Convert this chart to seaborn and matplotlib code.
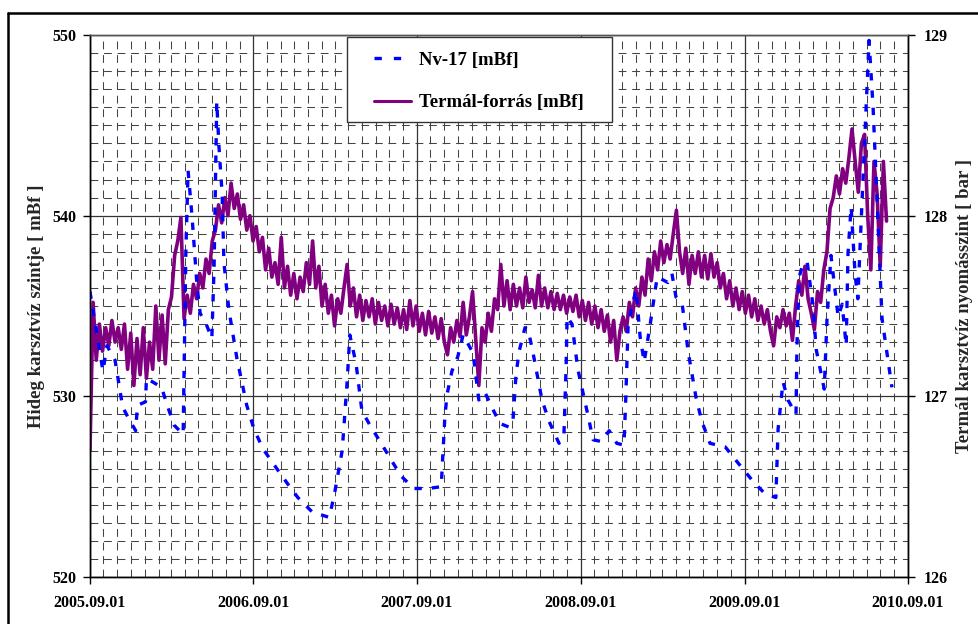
import matplotlib
matplotlib.use("Agg")
import matplotlib.pyplot as plt
import matplotlib.dates as mdates
from matplotlib.ticker import MultipleLocator, FixedLocator
from matplotlib.lines import Line2D
from matplotlib.patches import Rectangle
import pandas as pd
import seaborn as sns

# Nv-17 well level [mBf], read at the turning points of the curve
nv17_dates = [
    "2005-09-01", "2005-09-30", "2005-10-09", "2005-10-27", "2005-11-13", "2005-11-28", "2005-12-12", "2005-12-16", "2006-01-03", "2006-01-05",
    "2006-02-08", "2006-02-19", "2006-03-08", "2006-03-28", "2006-04-03", "2006-04-08", "2006-04-17", "2006-04-28", "2006-05-05", "2006-05-20",
    "2006-05-31", "2006-06-05", "2006-06-11", "2006-06-16", "2006-06-23", "2006-06-27", "2006-07-08", "2006-07-26", "2006-08-17", "2006-09-02",
    "2006-09-22", "2006-10-23", "2006-11-15", "2006-12-09", "2007-01-10", "2007-02-17", "2007-02-28", "2007-03-18", "2007-03-29", "2007-04-04",
    "2007-04-18", "2007-05-01", "2007-05-19", "2007-06-08", "2007-07-05", "2007-07-27", "2007-08-25", "2007-09-26", "2007-10-25", "2007-11-02",
    "2007-11-07", "2007-11-18", "2007-12-01", "2007-12-13", "2008-01-04", "2008-01-17", "2008-01-31", "2008-02-15", "2008-03-04", "2008-03-24",
    "2008-04-02", "2008-04-09", "2008-04-16", "2008-04-29", "2008-05-06", "2008-05-17", "2008-06-06", "2008-06-22", "2008-07-14", "2008-07-25",
    "2008-07-30", "2008-08-01", "2008-08-12", "2008-08-25", "2008-09-17", "2008-09-28", "2008-10-16", "2008-11-03", "2008-11-20", "2008-12-06",
    "2008-12-10", "2008-12-15", "2008-12-24", "2009-01-02", "2009-01-11", "2009-01-20", "2009-02-02", "2009-02-18", "2009-02-27", "2009-03-14",
    "2009-03-23", "2009-04-01", "2009-04-15", "2009-04-28", "2009-05-16", "2009-05-29", "2009-06-16", "2009-07-20", "2009-08-18", "2009-09-20",
    "2009-10-17", "2009-11-10", "2009-11-15", "2009-11-26", "2009-12-07", "2009-12-25", "2009-12-27", "2010-01-01", "2010-01-10", "2010-01-19",
    "2010-02-01", "2010-02-08", "2010-02-26", "2010-03-04", "2010-03-13", "2010-03-29", "2010-04-07", "2010-04-16", "2010-04-20", "2010-04-27",
    "2010-05-06", "2010-05-12", "2010-05-21", "2010-06-06", "2010-06-15", "2010-06-24", "2010-07-05", "2010-07-27",
]
nv17_level = [
    535.8, 531.4, 532.8, 532.0, 529.4, 528.7, 528.1, 529.5, 529.7, 531.0,
    530.5, 529.6, 528.4, 527.9, 538.0, 542.5, 539.9, 536.1, 534.6, 533.9,
    533.2, 537.1, 546.3, 543.8, 541.2, 537.4, 534.8, 532.1, 529.5, 528.2,
    527.1, 526.0, 525.2, 524.4, 523.6, 523.3, 524.5, 527.0, 530.8, 533.4,
    531.8, 529.2, 528.4, 527.6, 526.5, 525.6, 524.9, 524.9, 525.0, 528.8,
    530.1, 531.4, 532.2, 533.4, 532.4, 529.8, 530.2, 529.4, 528.5, 528.3,
    528.6, 531.2, 532.5, 533.8, 533.7, 532.4, 529.8, 528.6, 527.4, 527.9,
    531.8, 534.4, 534.0, 531.5, 528.9, 527.6, 527.5, 528.1, 527.4, 527.3,
    529.9, 533.8, 535.0, 535.9, 533.3, 531.9, 533.9, 536.6, 536.5, 536.3,
    536.8, 535.5, 535.1, 532.5, 529.9, 528.6, 527.4, 527.2, 526.3, 525.3,
    524.6, 524.4, 528.2, 530.8, 529.8, 529.0, 532.7, 536.6, 537.4, 537.4,
    535.0, 532.6, 530.4, 534.2, 537.8, 534.4, 535.1, 532.8, 537.9, 540.5,
    536.7, 535.4, 540.6, 549.7, 546.0, 540.8, 534.3, 530.5,
]

# Termál-forrás level [mBf], weekly readings from 2005-09-01
thermal_start = "2005-09-01"
thermal_level = [
    527.0, 535.2, 532.0, 534.0, 532.5, 533.8, 532.8, 534.2, 533.0, 533.8,
    532.6, 534.0, 531.5, 533.5, 530.6, 533.2, 531.2, 533.8, 531.0, 533.0,
    531.5, 535.0, 532.0, 534.5, 531.8, 534.8, 535.5, 537.8, 538.6, 539.9,
    534.3, 535.6, 534.6, 536.2, 535.4, 536.8, 536.0, 537.6, 536.8, 538.6,
    539.2, 540.6, 539.6, 541.0, 540.0, 541.8, 540.4, 541.2, 539.8, 540.6,
    539.2, 540.0, 538.6, 539.4, 538.0, 538.8, 537.0, 538.2, 536.6, 537.4,
    536.2, 538.8, 536.0, 537.2, 535.6, 536.8, 535.4, 536.6, 535.8, 537.4,
    536.2, 538.6, 536.0, 537.2, 535.0, 536.2, 534.6, 535.6, 533.9, 535.4,
    534.6, 536.0, 537.3, 535.0, 536.0, 534.4, 535.6, 534.2, 535.3, 534.4,
    535.4, 534.0, 535.2, 534.2, 535.0, 533.9, 535.1, 534.0, 534.9, 533.8,
    534.8, 533.7, 535.3, 533.9, 535.0, 533.6, 534.6, 533.4, 534.7, 533.5,
    534.4, 533.2, 534.3, 533.0, 532.3, 533.8, 533.0, 534.2, 533.3, 535.2,
    533.4, 534.4, 535.8, 533.2, 530.6, 533.8, 533.0, 534.6, 533.6, 535.4,
    534.8, 537.3, 535.0, 536.4, 534.8, 536.2, 535.0, 536.0, 534.9, 536.6,
    535.2, 535.9, 534.9, 536.7, 535.0, 536.0, 534.9, 535.8, 534.8, 535.7,
    534.8, 535.6, 534.6, 535.5, 534.7, 535.6, 534.4, 535.3, 534.2, 535.2,
    534.0, 535.0, 533.8, 534.8, 533.6, 534.5, 533.0, 534.2, 532.0, 533.6,
    534.4, 533.6, 535.2, 534.4, 536.0, 535.0, 536.6, 535.6, 537.6, 536.4,
    538.0, 537.0, 538.6, 537.4, 538.4, 537.6, 539.0, 540.3, 538.0, 536.8,
    538.2, 536.2, 537.8, 536.8, 538.0, 536.6, 537.8, 536.5, 537.9, 536.6,
    537.4, 536.0, 536.8, 535.4, 536.4, 535.0, 536.0, 534.8, 535.8, 534.6,
    535.6, 534.4, 535.4, 534.2, 535.0, 534.0, 534.8, 533.6, 532.8, 534.4,
    533.8, 534.8, 533.9, 534.6, 533.1, 535.0, 536.4, 535.6, 537.2, 535.4,
    534.6, 533.7, 535.8, 535.2, 537.0, 538.0, 540.4, 541.0, 542.2, 541.2,
    542.6, 541.8, 543.2, 544.8, 543.0, 541.3, 544.0, 544.5, 540.0, 537.0,
    543.0, 541.2, 537.2, 543.0, 539.7,
]

x_start, x_end = "2005-09-01", "2010-09-01"
left_ticks = [520, 530, 540, 550]
right_ticks = [126, 127, 128, 129]

BLUE = "#0000FF"
PURPLE = "#800080"
BLUE_DASH = (0, (2.2, 3.0))

nv17 = pd.DataFrame({"date": pd.to_datetime(nv17_dates), "level": nv17_level})
thermal = pd.DataFrame({
    "date": pd.date_range(thermal_start, periods=len(thermal_level), freq="7D"),
    "level": thermal_level,
})

sns.set_theme(style="ticks")
plt.rcParams["font.family"] = ["Liberation Serif", "DejaVu Serif"]
plt.rcParams["font.weight"] = "bold"
plt.rcParams["text.color"] = "black"
plt.rcParams["xtick.color"] = "black"
plt.rcParams["ytick.color"] = "black"

fig = plt.figure(figsize=(9.79, 6.24), dpi=100)
ax = fig.add_axes([0.0919, 0.0753, 0.8356, 0.8686])

sns.lineplot(data=thermal, x="date", y="level", ax=ax, color=PURPLE,
             lw=2.6, estimator=None, zorder=3)
sns.lineplot(data=nv17, x="date", y="level", ax=ax, color=BLUE,
             lw=2.4, ls=BLUE_DASH, estimator=None, zorder=4)

ax.set_xlim(pd.Timestamp(x_start), pd.Timestamp(x_end))
ax.set_ylim(left_ticks[0], left_ticks[-1])
ax.yaxis.set_major_locator(FixedLocator(left_ticks))
ax.yaxis.set_minor_locator(MultipleLocator(1))
ax.xaxis.set_major_locator(mdates.YearLocator(month=9, day=1))
ax.xaxis.set_minor_locator(mdates.MonthLocator())
ax.xaxis.set_major_formatter(mdates.DateFormatter("%Y.%m.%d"))

ax.grid(which="major", color="#333333", lw=0.9, ls="-")
ax.grid(which="minor", color="#444444", lw=0.75, ls=(0, (7.5, 5.5)))
ax.set_axisbelow(True)

ax.tick_params(which="major", direction="out", length=5, width=1,
               labelsize=11.5, pad=5)
ax.tick_params(axis="x", which="major", pad=8)
ax.tick_params(which="minor", length=0)
for lbl in ax.get_xticklabels() + ax.get_yticklabels():
    lbl.set_fontweight("bold")

ax.set_xlabel("")
ax.set_ylabel("Hideg karsztvíz szintje [ mBf ]", fontsize=13.5,
              fontweight="bold", labelpad=5)
for s in ax.spines.values():
    s.set_color("black")
    s.set_linewidth(1)
ax.spines["top"].set_color("#555555")

ax2 = ax.twinx()
ax2.set_ylim(right_ticks[0], right_ticks[-1])
ax2.yaxis.set_major_locator(FixedLocator(right_ticks))
ax2.tick_params(which="major", direction="out", length=5, width=1,
                labelsize=11.5, pad=6)
for lbl in ax2.get_yticklabels():
    lbl.set_fontweight("bold")
ax2.set_ylabel("Termál karsztvíz nyomásszint [ bar ]", fontsize=13.5,
               fontweight="bold", labelpad=6)
for s in ax2.spines.values():
    s.set_color("black")
    s.set_linewidth(1)
ax2.spines["top"].set_color("#555555")

# legend box drawn separately so its padding matches the original
ax2.add_patch(Rectangle((0.3142, 0.8395), 0.324, 0.1568, transform=ax2.transAxes,
                        facecolor="white", edgecolor="#333333", lw=1, zorder=5))
handles = [
    Line2D([], [], color=BLUE, lw=2.4, ls=(0, (2.2, 3.6))),
    Line2D([], [], color=PURPLE, lw=2.2),
]
leg = ax2.legend(handles, ["Nv-17 [mBf]", "Termál-forrás [mBf]"],
                 loc="upper left", bbox_to_anchor=(0.347, 0.969),
                 prop={"family": "Liberation Serif", "weight": "bold", "size": 13.5},
                 frameon=False, borderpad=0, labelspacing=1.35,
                 handlelength=2.0, handletextpad=0.4, borderaxespad=0)
leg.set_zorder(6)

# outer chart frame (top and left edges visible in the original)
fig.add_artist(Line2D([8 / 979, 8 / 979], [-0.1, 1 - 13 / 624],
                      transform=fig.transFigure, color="black", lw=1.8))
fig.add_artist(Line2D([8 / 979, 1.1], [1 - 13 / 624, 1 - 13 / 624],
                      transform=fig.transFigure, color="black", lw=1.8))

fig.savefig("out.png", dpi=100)
